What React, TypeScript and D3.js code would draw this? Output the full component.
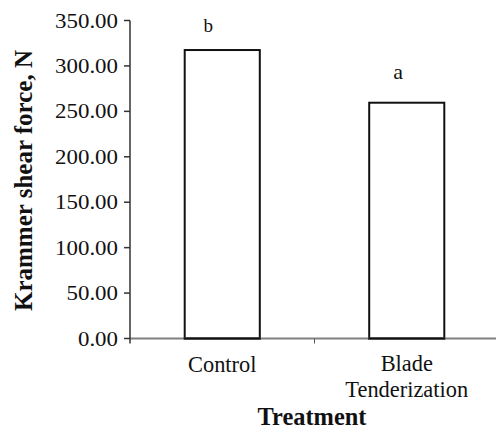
import React from "react";
import * as d3 from "d3";

const categories = ["Control", "Blade Tenderization"];
const categoryLines = [["Control"], ["Blade", "Tenderization"]];
const values = [317.5, 259.5];
const letters = ["b", "a"];
const yTicks = [0, 50, 100, 150, 200, 250, 300, 350];

export default function App() {
  const W = 496, H = 429;
  const x0 = 130, x1 = 499, yTop = 20.5, yBot = 338.5;
  const x = d3.scaleBand<string>().domain(categories).range([x0, x1]).paddingInner(0.593).paddingOuter(0.2965);
  const y = d3.scaleLinear().domain([0, 350]).range([yBot, yTop]);
  const font = "'Liberation Serif', 'Times New Roman', serif";
  const letterDx = [-14, -8.5];
  const letterSize = [19, 22];
  const letterGap = [18, 24];
  return (
    <svg width={W} height={H} style={{ position: "absolute", left: 0, top: 0, background: "#fff", fontFamily: font }}>
      {categories.map((c, i) => (
        <rect key={c} x={x(c)!} y={y(values[i])} width={x.bandwidth()} height={yBot - y(values[i])}
          fill="#fff" stroke="#111" strokeWidth={2} />
      ))}
      <line x1={x0} x2={W} y1={yBot} y2={yBot} stroke="#808080" strokeWidth={2} />
      {categories.map((c, i) => (
        <line key={c} x1={x(c)! - 1} x2={x(c)! + x.bandwidth() + 1} y1={yBot} y2={yBot} stroke="#111" strokeWidth={2} />
      ))}
      {categories.slice(1).map((c) => (
        <line key={c} x1={x0 + x.step()} x2={x0 + x.step()} y1={yBot} y2={yBot + 5} stroke="#555" strokeWidth={1} />
      ))}
      <line x1={x0} x2={x0} y1={yTop} y2={yBot + 5} stroke="#333" strokeWidth={1.5} />
      {yTicks.map((t) => (
        <g key={t}>
          <line x1={x0 - 6} x2={x0} y1={y(t)} y2={y(t)} stroke="#333" strokeWidth={1.5} />
          <text transform={`translate(${x0 - 12}, ${y(t)}) scale(1.145, 1)`} dy="0.35em" textAnchor="end" fontSize={20} fill="#111">{t.toFixed(2)}</text>
        </g>
      ))}
      {categories.map((c, i) => (
        <text key={c} x={x(c)! + x.bandwidth() / 2 + letterDx[i]} y={y(values[i]) - letterGap[i]} textAnchor="middle" fontSize={letterSize[i]} fill="#111">{letters[i]}</text>
      ))}
      {categories.map((c, i) => (
        <text key={c} x={x(c)! + x.bandwidth() / 2} y={categoryLines[i].length === 1 ? 371.7 : 370.7} textAnchor="middle" fontSize={22.4} fill="#111">
          {categoryLines[i].map((l, j) => (
            <tspan key={j} x={x(c)! + x.bandwidth() / 2} dy={j === 0 ? 0 : 26}>{l}</tspan>
          ))}
        </text>
      ))}
      <text x={312} y={424.5} textAnchor="middle" fontSize={24.4} fontWeight="bold" fill="#111">Treatment</text>
      <text transform={`translate(32, 180.5) rotate(-90)`} textAnchor="middle" fontSize={25} fontWeight="bold" fill="#111">Krammer shear force, N</text>
    </svg>
  );
}
